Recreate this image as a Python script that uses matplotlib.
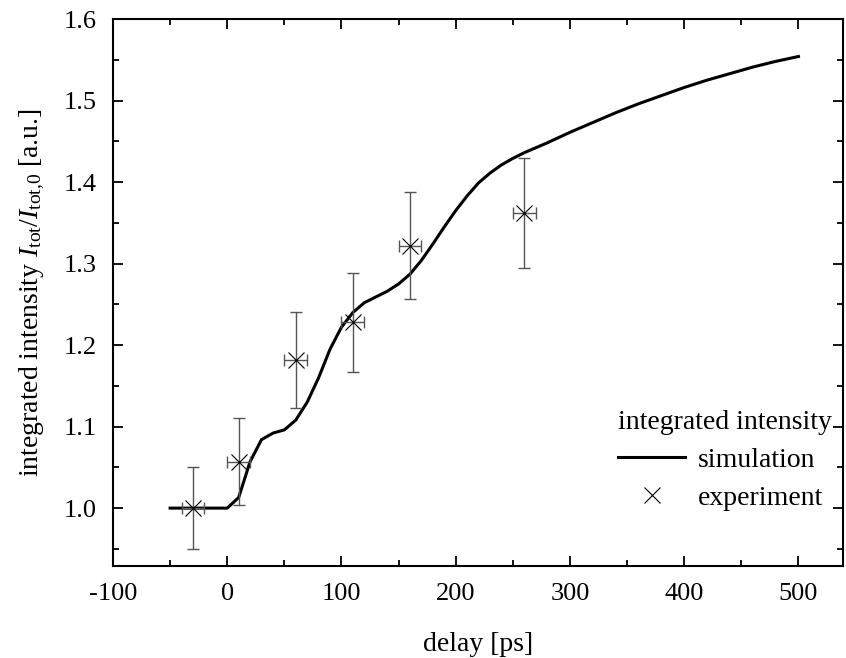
import numpy as np
import matplotlib
matplotlib.use('Agg')
import matplotlib.pyplot as plt
from matplotlib.ticker import MultipleLocator, FormatStrFormatter

# 模拟曲线 (delay in ps, normalized integrated intensity)
sim_delay = [-50, 0, 10, 20, 30, 40, 50, 60, 70, 80, 90, 100, 110, 120, 130, 140,
             150, 160, 170, 180, 190, 200, 210, 220, 230, 240, 250, 260, 280, 300,
             320, 340, 360, 380, 400, 420, 440, 460, 480, 500]
sim_int = [1.000, 1.000, 1.013, 1.057, 1.084, 1.092, 1.096, 1.108, 1.130, 1.160,
           1.195, 1.222, 1.240, 1.252, 1.259, 1.266, 1.275, 1.287, 1.304, 1.324,
           1.345, 1.365, 1.383, 1.399, 1.411, 1.421, 1.429, 1.436, 1.448, 1.461,
           1.473, 1.485, 1.496, 1.506, 1.516, 1.525, 1.533, 1.541, 1.548, 1.554]

# 实验数据
exp_delay = [-30, 10, 60, 110, 160, 260]
exp_int = [1.000, 1.057, 1.182, 1.228, 1.322, 1.362]
exp_yerr = [0.050, 0.053, 0.059, 0.061, 0.066, 0.068]
exp_xerr = [10, 10, 10, 10, 10, 10]

plt.rcParams['font.family'] = ['Liberation Serif', 'DejaVu Serif']
plt.rcParams['mathtext.fontset'] = 'custom'
plt.rcParams['mathtext.rm'] = 'Liberation Serif'
plt.rcParams['mathtext.it'] = 'Liberation Serif:italic'
plt.rcParams['axes.unicode_minus'] = False
plt.rcParams['font.size'] = 19

fig = plt.figure(figsize=(8.46, 6.58), dpi=100)
ax = fig.add_axes([113 / 846, 1 - 566 / 658, (843 - 113) / 846, (566 - 19) / 658])

ax.plot(sim_delay, sim_int, color='black', linewidth=2.2, label='simulation')
ax.errorbar(exp_delay, exp_int, yerr=exp_yerr, xerr=exp_xerr, fmt='none',
            ecolor='#555555', elinewidth=1.0, capsize=4, capthick=1.0)
ax.plot(exp_delay, exp_int, linestyle='none', marker='x', markersize=11,
        markeredgewidth=0.8, color='black', label='experiment')

ax.set_xlim(-100, 539)
ax.set_ylim(0.929, 1.6)
ax.xaxis.set_major_locator(MultipleLocator(100))
ax.xaxis.set_minor_locator(MultipleLocator(50))
ax.yaxis.set_major_locator(MultipleLocator(0.1))
ax.yaxis.set_minor_locator(MultipleLocator(0.05))
ax.yaxis.set_major_formatter(FormatStrFormatter('%.1f'))
ax.tick_params(which='both', direction='in', top=True, right=True, width=1.3)
ax.tick_params(which='major', length=7, pad=12)
ax.tick_params(which='minor', length=4)
for s in ax.spines.values():
    s.set_linewidth(1.5)

ax.set_xlabel('delay [ps]', labelpad=20, fontsize=20)
ax.set_ylabel(r'integrated intensity $\mathit{I}_{\mathrm{tot}}/\mathit{I}_{\mathrm{tot{,}0}}$ [a.u.]',
              labelpad=12, fontsize=20)

leg = ax.legend(title='integrated intensity', loc='lower right',
                bbox_to_anchor=(1.012, 0.065), frameon=False, handlelength=2.4,
                handletextpad=0.45, borderaxespad=0.3, labelspacing=0.45,
                alignment='left', fontsize=20)
leg.get_title().set_fontsize(20)

fig.savefig('out.png', dpi=100)
